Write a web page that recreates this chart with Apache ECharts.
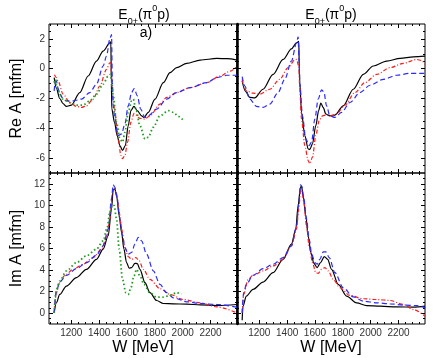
<!DOCTYPE html>
<html>
<head>
<meta charset="utf-8">
<script src="https://cdn.jsdelivr.net/npm/echarts@6/dist/echarts.min.js"></script>
<style>
html, body { margin: 0; padding: 0; background: #fff; }
#chart { width: 435px; height: 358px; }
</style>
</head>
<body>
<div id="chart"></div>
<script>
var FONT = 'Liberation Sans';

// W axis (MeV)
var W_MIN = 1040, W_MAX = 2390;
var wLabels = [1200, 1400, 1600, 1800, 2000, 2200];
var reRange = [-7, 3];
var reLabels = [-6, -4, -2, 0, 2];
var imRange = [-1, 13];
var imLabels = [0, 2, 4, 6, 8, 10, 12];

// Re A, left panel
var reL_black = [[1077,-0.6],[1093,-1.3],[1117,-2.0],[1141,-2.35],[1165,-2.53],[1201,-2.44],[1261,-1.6],[1321,-0.49],[1381,0.51],[1429,1.18],[1477,1.73],[1484,1.8],[1488,-1.0],[1491,-2.7],[1510,-3.6],[1530,-4.5],[1549,-5.16],[1568,-5.49],[1588,-5.16],[1609,-3.82],[1628,-2.82],[1650,-2.53],[1674,-2.82],[1705,-3.16],[1722,-3.27],[1753,-2.93],[1801,-2.04],[1861,-0.93],[1909,-0.27],[1957,0.07],[2029,0.36],[2126,0.58],[2246,0.69],[2318,0.67],[2390,0.58]];
var reL_blue = [[1077,-1.49],[1085,-0.9],[1093,-0.82],[1105,-1.3],[1117,-1.71],[1141,-2.0],[1165,-2.16],[1213,-2.16],[1273,-2.04],[1333,-1.6],[1381,-1.04],[1429,0.18],[1453,0.84],[1477,2.0],[1489,2.29],[1495,-0.9],[1501,-2.5],[1513,-3.38],[1537,-4.49],[1561,-4.38],[1585,-3.71],[1609,-2.49],[1633,-1.6],[1652,-1.33],[1674,-1.82],[1698,-2.71],[1729,-3.27],[1753,-3.16],[1813,-2.71],[1885,-2.04],[1957,-1.6],[2053,-1.27],[2173,-0.93],[2246,-0.6],[2318,-0.44],[2390,-0.44]];
var reL_red = [[1079,-0.4],[1093,-0.6],[1105,-0.82],[1141,-1.71],[1189,-2.27],[1237,-2.53],[1273,-2.6],[1309,-2.49],[1357,-2.04],[1405,-1.16],[1453,-0.04],[1477,0.4],[1484,0.4],[1490,-0.6],[1500,-2.0],[1513,-2.9],[1537,-4.71],[1556,-5.82],[1568,-6.04],[1585,-5.82],[1604,-4.93],[1628,-3.6],[1650,-3.0],[1693,-3.33],[1729,-3.38],[1765,-3.16],[1837,-2.38],[1885,-1.93],[1957,-1.6],[2053,-1.27],[2173,-0.93],[2270,-0.49],[2342,-0.16],[2390,0.18]];
var reL_green = [[1077,-0.93],[1086,-0.71],[1095,-1.1],[1105,-1.49],[1141,-2.04],[1189,-2.27],[1237,-2.44],[1285,-2.44],[1333,-2.16],[1381,-1.71],[1429,-1.04],[1465,-0.49],[1482,-0.38],[1490,-0.9],[1501,-1.82],[1525,-3.6],[1549,-4.71],[1568,-4.93],[1585,-4.27],[1609,-2.93],[1633,-2.16],[1645,-2.04],[1664,-2.71],[1693,-3.82],[1729,-4.71],[1753,-4.6],[1789,-3.93],[1837,-3.16],[1897,-2.82],[1933,-2.93],[1969,-3.2],[2000,-3.42]];

// Re A, right panel
var reR_black = [[1077,-0.82],[1100,-1.5],[1132,-1.93],[1167,-1.96],[1227,-1.38],[1299,-0.38],[1371,0.62],[1431,1.33],[1467,1.73],[1484,1.84],[1487,0.0],[1491,-0.93],[1503,-2.93],[1527,-4.49],[1551,-5.38],[1563,-5.42],[1582,-5.04],[1606,-3.82],[1626,-2.82],[1642,-2.31],[1659,-2.6],[1678,-3.04],[1707,-3.16],[1743,-3.11],[1803,-2.49],[1875,-1.38],[1947,-0.38],[2019,0.18],[2115,0.51],[2211,0.69],[2307,0.8],[2390,0.84]];
var reR_blue = [[1077,-0.53],[1096,-1.16],[1132,-2.04],[1180,-2.53],[1227,-2.6],[1275,-2.38],[1335,-1.6],[1383,-0.71],[1431,0.51],[1467,1.73],[1479,2.13],[1486,0.5],[1491,-1.0],[1510,-3.16],[1534,-4.71],[1558,-5.16],[1575,-4.93],[1599,-3.38],[1623,-2.04],[1647,-1.42],[1664,-1.56],[1683,-2.49],[1707,-3.16],[1743,-3.27],[1791,-2.93],[1851,-2.27],[1923,-1.6],[1995,-1.11],[2091,-0.71],[2187,-0.44],[2283,-0.31],[2390,-0.31]];
var reR_red = [[1077,-0.71],[1090,-1.2],[1108,-1.49],[1155,-1.64],[1203,-1.71],[1275,-1.38],[1347,-0.71],[1407,0.07],[1455,0.58],[1467,0.62],[1484,0.18],[1490,-1.2],[1503,-3.38],[1527,-5.16],[1551,-6.16],[1563,-6.38],[1582,-5.93],[1606,-4.49],[1630,-3.49],[1654,-3.16],[1683,-3.11],[1719,-3.16],[1755,-3.04],[1815,-2.44],[1887,-1.6],[1959,-0.93],[2043,-0.38],[2139,0.07],[2235,0.36],[2331,0.62],[2365,0.55],[2390,0.29]];

// Im A, left panel
var imL_black = [[1077,0.03],[1093,0.96],[1117,1.74],[1165,2.52],[1237,3.3],[1309,4.07],[1381,5.0],[1429,5.94],[1465,7.18],[1489,9.67],[1501,11.47],[1513,11.53],[1525,10.91],[1544,9.05],[1561,7.49],[1578,5.94],[1597,4.69],[1616,4.17],[1633,4.23],[1657,4.63],[1674,4.6],[1693,4.07],[1729,2.83],[1765,1.9],[1813,1.18],[1861,0.9],[1933,0.87],[2029,0.84],[2126,0.78],[2246,0.71],[2390,0.81]];
var imL_red = [[1077,0.03],[1093,1.9],[1117,2.83],[1153,3.51],[1213,4.07],[1285,4.54],[1357,5.16],[1417,5.94],[1453,7.03],[1477,8.73],[1496,11.22],[1508,11.47],[1525,11.07],[1544,9.36],[1561,7.8],[1585,6.09],[1609,5.25],[1633,5.0],[1664,5.16],[1688,4.85],[1717,4.07],[1765,3.14],[1837,2.27],[1909,1.74],[2005,1.27],[2126,0.96],[2246,0.59],[2390,0.03]];
var imL_blue = [[1077,0.03],[1093,2.05],[1117,2.89],[1165,3.51],[1237,4.13],[1309,4.69],[1381,5.38],[1429,6.25],[1465,7.8],[1489,10.6],[1501,11.91],[1513,11.69],[1530,10.6],[1549,8.73],[1568,7.18],[1585,6.09],[1609,5.47],[1633,5.63],[1657,6.4],[1681,7.03],[1705,6.71],[1741,5.47],[1789,3.92],[1837,2.67],[1885,1.9],[1933,1.43],[2029,1.06],[2126,0.9],[2246,0.81],[2390,0.56]];
var imL_green = [[1077,0.03],[1093,2.21],[1117,2.98],[1165,3.92],[1237,4.69],[1309,5.32],[1381,5.94],[1429,6.71],[1458,7.96],[1477,9.36],[1494,10.04],[1508,9.98],[1525,8.73],[1544,5.94],[1568,3.14],[1592,1.9],[1609,1.74],[1628,2.36],[1650,3.45],[1669,4.07],[1693,3.45],[1722,2.67],[1765,1.9],[1813,1.49],[1861,1.49],[1909,1.65],[1957,1.9],[1993,1.8]];

// Im A, right panel
var imR_black = [[1077,-0.65],[1083,0.65],[1107,1.59],[1155,2.21],[1227,2.89],[1299,3.76],[1371,5.0],[1431,6.4],[1462,7.8],[1479,9.98],[1496,11.69],[1503,11.78],[1515,10.91],[1534,9.05],[1551,7.18],[1570,5.63],[1592,4.63],[1616,4.23],[1640,4.69],[1667,5.25],[1691,5.0],[1719,4.07],[1767,2.67],[1827,1.59],[1899,0.96],[1971,0.71],[2067,0.65],[2187,0.59],[2307,0.56],[2390,0.65]];
var imR_blue = [[1077,0.03],[1088,1.9],[1107,2.67],[1155,3.51],[1227,4.13],[1299,4.54],[1371,5.16],[1431,6.25],[1467,7.96],[1484,10.29],[1496,11.91],[1505,11.78],[1520,10.6],[1539,8.73],[1558,6.87],[1577,5.47],[1599,4.69],[1616,4.54],[1635,5.0],[1659,5.69],[1678,5.69],[1702,5.16],[1743,3.76],[1803,2.36],[1875,1.52],[1947,1.12],[2043,0.96],[2139,0.87],[2235,0.75],[2331,0.71],[2390,0.5]];
var imR_red = [[1077,0.03],[1088,1.74],[1120,3.14],[1155,3.51],[1227,3.92],[1299,4.38],[1371,5.0],[1431,6.25],[1467,7.8],[1484,9.67],[1496,11.38],[1505,11.38],[1520,10.29],[1539,8.11],[1558,6.25],[1582,4.69],[1606,3.76],[1623,3.7],[1647,4.07],[1671,4.23],[1695,3.92],[1731,3.14],[1779,2.36],[1851,1.65],[1947,1.34],[2043,1.27],[2139,1.18],[2235,0.81],[2307,0.34],[2390,-0.28]];

function steps(a, b, d) {
    var out = [];
    for (var v = a + d; v < b - 1e-9; v += d) out.push(Math.round(v * 100) / 100);
    return out;
}
var wMinor = steps(W_MIN, W_MAX, 10).filter(function (w) { return w % 50 === 0; });

var STYLE = {
    black: { color: '#000000', width: 1.2, type: 'solid' },
    blue:  { color: '#2a2aff', width: 1.2, type: [5, 3] },
    red:   { color: '#ff1a1a', width: 1.2, type: [4, 2, 1, 2] },
    green: { color: '#1e9e1e', width: 1.8, type: [1.5, 2.5] }
};

var panels = [
    { grid: { left: 49, top: 24, width: 188, height: 149 }, range: reRange, labels: reLabels,
      xLab: false, yLab: true, yName: 'Re A [mfm]', xName: '', midLine: false,
      curves: [['black', reL_black], ['red', reL_red], ['blue', reL_blue], ['green', reL_green]] },
    { grid: { left: 237, top: 24, width: 188, height: 149 }, range: reRange, labels: reLabels,
      xLab: false, yLab: false, yName: '', xName: '', midLine: true,
      curves: [['black', reR_black], ['red', reR_red], ['blue', reR_blue]] },
    { grid: { left: 49, top: 173, width: 188, height: 151 }, range: imRange, labels: imLabels,
      xLab: true, yLab: true, yName: 'Im A [mfm]', xName: 'W [MeV]', midLine: false,
      curves: [['black', imL_black], ['red', imL_red], ['blue', imL_blue], ['green', imL_green]] },
    { grid: { left: 237, top: 173, width: 188, height: 151 }, range: imRange, labels: imLabels,
      xLab: true, yLab: false, yName: '', xName: 'W [MeV]', midLine: true,
      curves: [['black', imR_black], ['red', imR_red], ['blue', imR_blue]] }
];

var grids = [], xAxes = [], yAxes = [], series = [];

function axis(gi, pos, min, max, ticks, len, withLabels, name, gap, line) {
    return {
        type: 'value', gridIndex: gi, position: pos, min: min, max: max,
        axisLine: { show: !!line, onZero: false, lineStyle: { color: '#000', width: line || 1 } },
        splitLine: { show: false },
        axisTick: { show: true, inside: true, length: len, customValues: ticks,
                    lineStyle: { color: '#000', width: 1 } },
        axisLabel: withLabels ? { show: true, customValues: ticks, color: '#333',
                                  fontSize: 10, fontFamily: FONT, margin: 4,
                                  formatter: function (v) { return String(v); } }
                              : { show: false },
        name: name || '', nameLocation: 'middle', nameGap: gap || 0,
        nameTextStyle: { color: '#000', fontSize: 16, fontFamily: FONT }
    };
}

panels.forEach(function (p, gi) {
    grids.push(Object.assign({ show: true, borderColor: '#000', borderWidth: 1 }, p.grid));
    var yMinor = steps(p.range[0], p.range[1], 0.5);
    xAxes.push(axis(gi, 'bottom', W_MIN, W_MAX, wLabels, 4, p.xLab, p.xName, 16));
    xAxes.push(axis(gi, 'bottom', W_MIN, W_MAX, wMinor, 2, false));
    xAxes.push(axis(gi, 'top', W_MIN, W_MAX, wLabels, 4, false));
    xAxes.push(axis(gi, 'top', W_MIN, W_MAX, wMinor, 2, false));
    yAxes.push(axis(gi, 'left', p.range[0], p.range[1], p.labels, 4, p.yLab, p.yName, 24, p.midLine ? 2.5 : 0));
    yAxes.push(axis(gi, 'left', p.range[0], p.range[1], yMinor, 2, false));
    yAxes.push(axis(gi, 'right', p.range[0], p.range[1], p.labels, 4, false));
    yAxes.push(axis(gi, 'right', p.range[0], p.range[1], yMinor, 2, false));
    p.curves.forEach(function (c) {
        series.push({
            type: 'line', xAxisIndex: gi * 4, yAxisIndex: gi * 4,
            data: c[1], showSymbol: false, smooth: 0.3, smoothMonotone: 'x',
            lineStyle: STYLE[c[0]], clip: true, animation: false, silent: true
        });
    });
});

var titleRich = {
    b: { fontSize: 14, fontFamily: FONT, fill: '#000', lineHeight: 22 },
    s: { fontSize: 9, fontFamily: FONT, fill: '#000', lineHeight: 12, verticalAlign: 'bottom' },
    p: { fontSize: 9, fontFamily: FONT, fill: '#000', lineHeight: 10, verticalAlign: 'top' }
};
var titleText = '{b|E}{s|0+}{b|(π}{p|0}{b|p)}';

var chart = echarts.init(document.getElementById('chart'), null, { renderer: 'canvas' });
chart.setOption({
    animation: false,
    backgroundColor: '#fff',
    grid: grids,
    xAxis: xAxes,
    yAxis: yAxes,
    series: series,
    graphic: [
        { type: 'text', x: 144, y: 15, style: { text: titleText, rich: titleRich, align: 'center', verticalAlign: 'middle' } },
        { type: 'text', x: 331, y: 15, style: { text: titleText, rich: titleRich, align: 'center', verticalAlign: 'middle' } },
        { type: 'text', x: 146, y: 33, style: { text: 'a)', fontSize: 14, fontFamily: FONT, fill: '#000', align: 'center', verticalAlign: 'middle' } }
    ]
});
</script>
</body>
</html>
